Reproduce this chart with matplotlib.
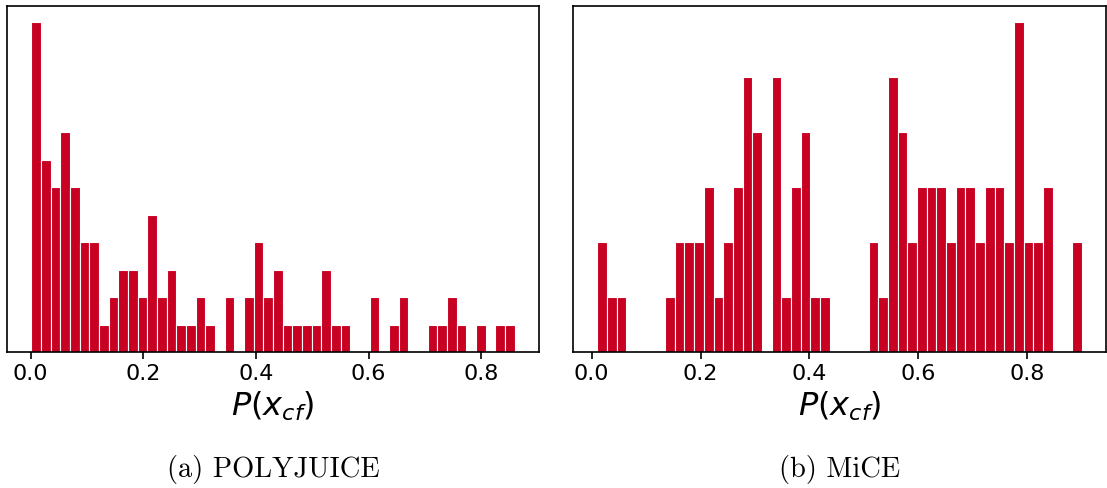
import matplotlib
matplotlib.use("Agg")
import matplotlib.pyplot as plt
import numpy as np

# histogram counts per bin (50 bins each)
polyjuice_counts = [12, 7, 6, 8, 6, 4, 4, 1, 2, 3, 3, 2, 5, 2, 3, 1, 1, 2, 1, 0,
                    2, 0, 2, 4, 2, 3, 1, 1, 1, 1, 3, 1, 1, 0, 0, 2, 0, 1, 2, 0,
                    0, 1, 1, 2, 1, 0, 1, 0, 1, 1]
polyjuice_range = (0.0012, 0.8597)

mice_counts = [2, 1, 1, 0, 0, 0, 0, 1, 2, 2, 2, 3, 1, 2, 3, 5, 4, 0, 5, 1,
               3, 4, 1, 1, 0, 0, 0, 0, 2, 1, 5, 4, 2, 3, 3, 3, 2, 3, 3, 2,
               3, 3, 2, 6, 2, 2, 3, 0, 0, 2]
mice_range = (0.0105, 0.8996)

xticks = [0.0, 0.2, 0.4, 0.6, 0.8]
captions = ["(a) POLYJUICE", "(b) MiCE"]

bar_color = "#C80021"

fig = plt.figure(figsize=(11.07, 4.88), dpi=100)
ax1 = fig.add_axes([7 / 1107, 136 / 488, 532 / 1107, 346 / 488])
ax2 = fig.add_axes([573 / 1107, 136 / 488, 533 / 1107, 346 / 488])

for ax, counts, rng, cap in [(ax1, polyjuice_counts, polyjuice_range, captions[0]),
                             (ax2, mice_counts, mice_range, captions[1])]:
    edges = np.linspace(rng[0], rng[1], len(counts) + 1)
    ax.hist(edges[:-1], bins=edges, weights=counts, color=bar_color,
            edgecolor="white", linewidth=0.8)
    ax.set_xticks(xticks)
    ax.set_yticks([])
    ax.tick_params(axis="x", labelsize=16, length=5, width=1.2)
    ax.set_xlabel(r"$P(x_{cf})$", fontsize=23, labelpad=4)
    for s in ax.spines.values():
        s.set_linewidth(1.2)
    pos = ax.get_position()
    fig.text((pos.x0 + pos.x1) / 2, 19 / 488, cap, ha="center", va="center",
             fontsize=20.5, family="cmr10")

fig.savefig("out.png", dpi=100)
